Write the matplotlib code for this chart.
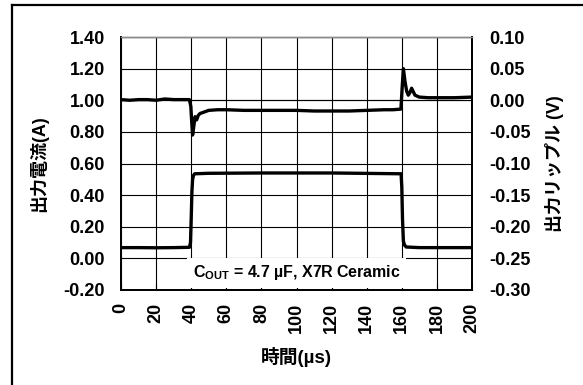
#!/usr/bin/env python3
"""Load transient: output current and output ripple vs. time."""

import matplotlib
matplotlib.use('Agg')
import matplotlib.pyplot as plt
from matplotlib.lines import Line2D

plt.rcParams.update({
    'font.family': ['Liberation Sans', 'Noto Sans CJK JP'],
    'font.weight': 'bold',
    'font.size': 12,
    'mathtext.fontset': 'custom',
    'mathtext.rm': 'Liberation Sans:bold',
    'mathtext.bf': 'Liberation Sans:bold',
    'mathtext.it': 'Liberation Sans:bold',
    'figure.facecolor': 'white',
    'axes.facecolor': 'white',
})

# output current trace (A)
cur_t = [0, 10, 20, 30, 39.0, 39.6, 40.0, 40.4, 40.8, 41.3, 42, 50, 80, 120,
         159.6, 160.0, 160.4, 160.9, 161.5, 162.5, 170, 200]
cur_i = [0.068, 0.068, 0.067, 0.068, 0.070, 0.10, 0.25, 0.42, 0.50, 0.525, 0.535,
         0.538, 0.540, 0.540, 0.535, 0.45, 0.25, 0.11, 0.085, 0.072, 0.068, 0.068]

# output ripple trace (V)
rip_t = [0, 5, 10, 15, 20, 25, 30, 35, 39.0, 39.8, 40.3, 40.8, 41.3, 42.2, 43.1,
         44.0, 45.0, 47, 50, 55, 60, 70, 80, 90, 100, 110, 120, 130, 140, 150,
         155, 159.5, 160.2, 160.9, 161.8, 162.8, 163.7, 164.6, 165.6, 167.5,
         170, 175, 180, 190, 200]
rip_v = [0.001, 0.0, 0.001, 0.001, 0.0, 0.002, 0.001, 0.001, 0.001, -0.010,
         -0.035, -0.055, -0.045, -0.026, -0.031, -0.024, -0.021, -0.019, -0.016,
         -0.015, -0.015, -0.016, -0.016, -0.016, -0.016, -0.017, -0.017, -0.017,
         -0.016, -0.015, -0.015, -0.014, 0.020, 0.050, 0.030, 0.014, 0.008, 0.012,
         0.019, 0.008, 0.005, 0.004, 0.004, 0.004, 0.005]

x_ticks = list(range(0, 201, 20))
left_ticks = [-0.20, 0.00, 0.20, 0.40, 0.60, 0.80, 1.00, 1.20, 1.40]
right_ticks = [-0.30, -0.25, -0.20, -0.15, -0.10, -0.05, 0.00, 0.05, 0.10]

W, H = 583, 385
fig = plt.figure(figsize=(W / 100, H / 100), dpi=100)
ax = fig.add_axes([121 / W, 1 - 290 / H, 351 / W, 253 / H])
ax2 = ax.twinx()

ax.set_xlim(0, 200)
ax.set_ylim(-0.20, 1.40)
ax2.set_ylim(-0.30, 0.10)

ax.set_xticks(x_ticks)
ax.set_xticklabels([str(v) for v in x_ticks], rotation=90)
ax.set_yticks(left_ticks)
ax.set_yticklabels([f'{v:.2f}' for v in left_ticks])
ax2.set_yticks(right_ticks)
ax2.set_yticklabels([f'{v:.2f}' for v in right_ticks])

ax.grid(True, color='black', linewidth=0.8, zorder=0)
ax.axhline(1.00, color='#8a8a8a', linewidth=0.9, zorder=1)
ax.tick_params(axis='x', direction='in', length=4, width=0.8, pad=9, labelsize=13)
ax.tick_params(axis='y', length=0, pad=11.5, labelsize=13)
ax2.tick_params(axis='y', length=0, pad=12.5, labelsize=13)

for a in (ax, ax2):
    for side in ('left', 'right', 'bottom'):
        a.spines[side].set_linewidth(1.3)
    a.spines['top'].set_color('#8a8a8a')
    a.spines['top'].set_linewidth(1.0)

ax.plot(cur_t, cur_i, color='black', linewidth=2.4, zorder=3)
ax2.plot(rip_t, rip_v, color='black', linewidth=2.4, zorder=3)

ax.text(100, -0.09, r'C$_{\mathrm{OUT}}$ = 4.7 µF, X7R Ceramic', ha='center', va='center',
        fontsize=11.5, fontweight='bold', zorder=5,
        bbox=dict(facecolor='white', edgecolor='none', pad=4))

ax.set_xlabel('時間(µs)', fontsize=13.5, fontweight='bold', labelpad=10)
ax.set_ylabel('出力電流(A)', fontsize=13, fontweight='bold', labelpad=11)
ax2.set_ylabel('出力リップル (V)', fontsize=13, fontweight='bold', labelpad=10)

# frame lines along the left and top edges of the figure
fig.add_artist(Line2D([12 / W, 12 / W], [0, 1 - 5 / H], color='black', linewidth=1.6))
fig.add_artist(Line2D([12 / W, 1], [1 - 5 / H, 1 - 5 / H], color='black', linewidth=1.6))

fig.savefig('out.png', dpi=100)
plt.close(fig)
